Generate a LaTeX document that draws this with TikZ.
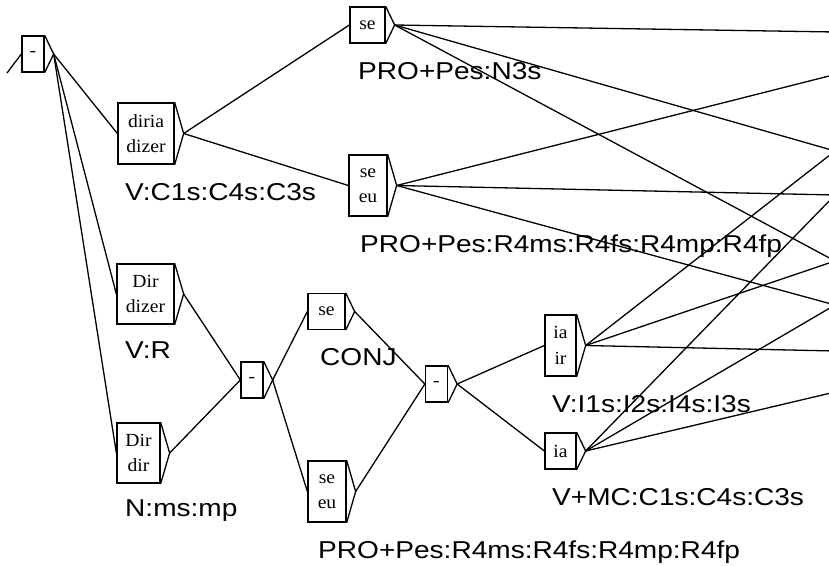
\documentclass[tikz,border=0pt]{standalone}
\usepackage{fontspec}
\newfontfamily\labfont{Liberation Sans}
\newfontfamily\boxfont{Liberation Serif}
\newcommand\sx[1]{\scalebox{1.15}[1]{#1}}
\newcommand\bsx[1]{\scalebox{1.06}[1]{#1}}
\newcommand\ubox[6]{%
  \node[box,minimum width=#4pt,minimum height=#5pt] (#1) at (#2,#3) {#6};
  \path (#1.east) ++(9,0) coordinate (#1-t);
  \draw[boxline] (#1.north east) -- (#1-t) -- (#1.south east);}
\begin{document}
\begin{tikzpicture}[x=1pt,y=-1pt,
  box/.style={draw,line width=1.3pt,rectangle,inner sep=0pt,align=center,
    font=\boxfont\fontsize{18.5}{25.5}\selectfont},
  boxline/.style={line width=1.3pt,line join=miter},
  edge/.style={line width=1.3pt},
  lab/.style={anchor=base west,inner sep=0pt,font=\labfont\fontsize{24.4}{28}\selectfont}]
\useasboundingbox (0,0) rectangle (829,565);
\clip (0,0) rectangle (829,565);
% boxes
\ubox{b0}{33}{54}{22}{36}{\bsx{-}}
\ubox{diria}{146}{133.5}{56}{61}{\bsx{diria}\\\bsx{dizer}}
\ubox{se1}{367.5}{25}{35}{36}{\bsx{se}}
\ubox{se2}{368}{185.5}{38}{61}{\bsx{se}\\\bsx{eu}}
\ubox{dir1}{145.5}{294}{57}{60}{\bsx{Dir}\\\bsx{dizer}}
\ubox{dir2}{138.5}{453}{43}{60}{\bsx{Dir}\\\bsx{dir}}
\ubox{m1}{252}{380}{22}{36}{\bsx{-}}
\ubox{se3}{326.5}{311.5}{37}{36}{\bsx{se}}
\ubox{se4}{327}{491.5}{38}{61}{\bsx{se}\\\bsx{eu}}
\ubox{m2}{436.5}{384}{22}{36}{\bsx{-}}
\ubox{ia1}{560.5}{345.5}{31}{61}{\bsx{ia}\\\bsx{ir}}
\ubox{ia2}{560.5}{451}{31}{36}{\bsx{ia}}
% labels
\node[lab] (l1) at (358,79) {\sx{PRO+Pes:N3s}};
\node[lab] (l2) at (125,200) {\sx{V:C1s:C4s:C3s}};
\node[lab] (l3) at (360,252) {\sx{PRO+Pes:R4ms:R4fs:R4mp:R4fp}};
\node[lab] (l4) at (125,358) {\sx{V:R}};
\node[lab] (l5) at (320,365) {\sx{CONJ}};
\node[lab] (l6) at (125,516) {\sx{N:ms:mp}};
\node[lab] (l7) at (552,412) {\sx{V:I1s:I2s:I4s:I3s}};
\node[lab] (l8) at (552,505) {\sx{V+MC:C1s:C4s:C3s}};
\node[lab] (l9) at (318,558) {\sx{PRO+Pes:R4ms:R4fs:R4mp:R4fp}};
% free ends
\coordinate (in) at (7,73);
\coordinate (t1) at (835,32);
\coordinate (t2) at (835,74.5);
\coordinate (t3) at (835,151);
\coordinate (t4) at (835,195);
\coordinate (t5) at (835,261);
\coordinate (t6) at (835,305);
\coordinate (t7) at (835,351);
\coordinate (t8) at (835,392);
% connectors
\draw[edge] (in) -- (b0.west);
\draw[edge] (b0-t) -- (diria.west);
\draw[edge] (b0-t) -- (dir1.west);
\draw[edge] (b0-t) -- (dir2.west);
\draw[edge] (diria-t) -- (se1.west);
\draw[edge] (diria-t) -- (se2.west);
\draw[edge] (dir1-t) -- (m1.west);
\draw[edge] (dir2-t) -- (m1.west);
\draw[edge] (m1-t) -- (se3.west);
\draw[edge] (m1-t) -- (se4.west);
\draw[edge] (se3-t) -- (m2.west);
\draw[edge] (se4-t) -- (m2.west);
\draw[edge] (m2-t) -- (ia1.west);
\draw[edge] (m2-t) -- (ia2.west);
\draw[edge] (se1-t) -- (t1);
\draw[edge] (se1-t) -- (t3);
\draw[edge] (se1-t) -- (t5);
\draw[edge] (se2-t) -- (t2);
\draw[edge] (se2-t) -- (t4);
\draw[edge] (se2-t) -- (t6);
\draw[edge] (ia1-t) -- (t3);
\draw[edge] (ia1-t) -- (t5);
\draw[edge] (ia1-t) -- (t7);
\draw[edge] (ia2-t) -- (t4);
\draw[edge] (ia2-t) -- (t6);
\draw[edge] (ia2-t) -- (t8);
\end{tikzpicture}
\end{document}
